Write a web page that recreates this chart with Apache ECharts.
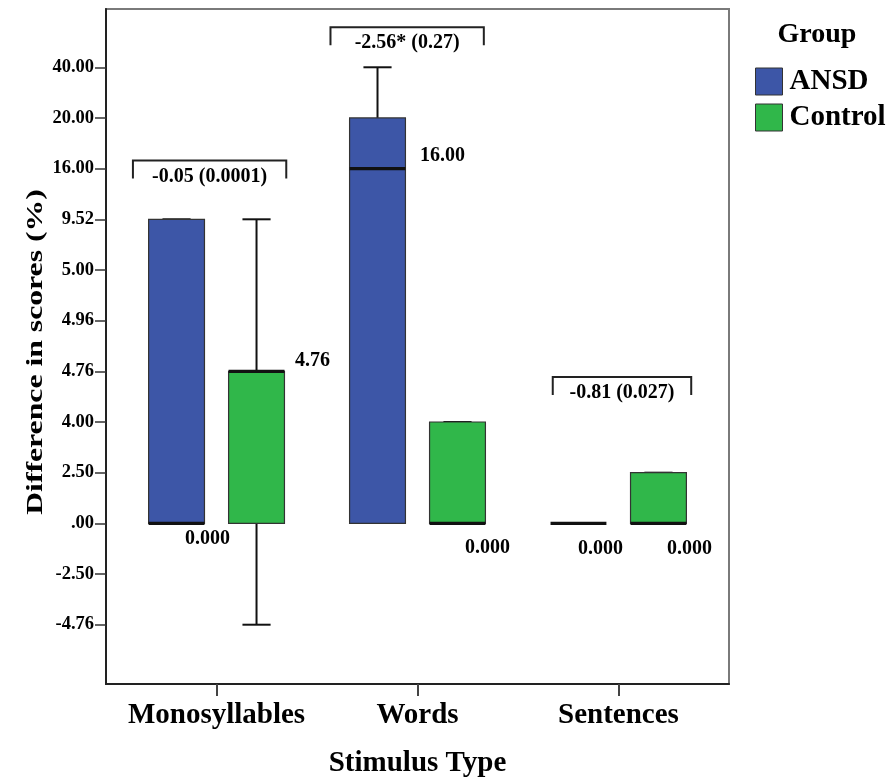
<!DOCTYPE html>
<html>
<head>
<meta charset="utf-8">
<script src="https://cdn.jsdelivr.net/npm/echarts@6.0.0/dist/echarts.min.js"></script>
<style>html,body{margin:0;padding:0;background:#fff}#c{width:887px;height:777px}</style>
</head>
<body>
<div id="c"></div>
<script>
// ---- data ----
const categories = ['Monosyllables', 'Words', 'Sentences'];
const tickValues = [-4.76, -2.5, 0, 2.5, 4, 4.76, 4.96, 5, 9.52, 16, 20, 40];
const tickLabels = ['-4.76', '-2.50', '.00', '2.50', '4.00', '4.76', '4.96', '5.00', '9.52', '16.00', '20.00', '40.00'];
// [min, Q1, median, Q3, max]
const ansd = [[0, 0, 0, 9.52, 9.52], [0, 0, 16, 20, 40], [0, 0, 0, 0, 0]];
const control = [[-4.76, 0, 4.76, 4.76, 9.52], [0, 0, 0, 4, 4], [0, 0, 0, 2.5, 2.5]];
const ansdMedianText = ['0.000', '16.00', '0.000'];
const controlMedianText = ['4.76', '0.000', '0.000'];
const bracketTexts = ['-0.05 (0.0001)', '-2.56* (0.27)', '-0.81 (0.027)'];

// ---- layout / style ----
const FONT = "'Liberation Serif','Times New Roman',serif";
const BLUE = '#3D56A7', GREEN = '#30B74A';
const GROUP_OFF = 0.199, HALF_W = 0.139, CAP_HALF = 0.07;
const ANSD_LABEL_OFF = [[3, 15], [37, -13], [-6, 25]];
const CONTROL_LABEL_OFF = [[28, -10.7], [2, 24.5], [3, 25]];
const BRACKET_LAYOUT = [
  { level: 9.16, x0: -0.416, x1: 0.347 },
  { level: 11.79, x0: -0.433, x1: 0.330 },
  { level: 4.89, x0: -0.327, x1: 0.362 }
];

const pos = v => tickValues.indexOf(v);
const toRows = arr => arr.map((r, i) => [i].concat(r.map(pos)));

function boxRender(offset, labels, labelOff) {
  return function (params, api) {
    const c = api.value(0);
    const vMin = api.value(1), vQ1 = api.value(2), vMed = api.value(3), vQ3 = api.value(4), vMax = api.value(5);
    const unit = api.size([1, 0])[0];
    const cx = api.coord([c, 0])[0] + offset * unit;
    const hw = HALF_W * unit, ch = CAP_HALF * unit;
    const y = v => api.coord([c, v])[1];
    const kids = [];
    const line = (x1, y1, x2, y2, w) => kids.push({ type: 'line', shape: { x1, y1, x2, y2 }, style: { stroke: '#111', lineWidth: w } });
    if (vMin < vQ1) { line(cx, y(vMin), cx, y(vQ1), 2); line(cx - ch, y(vMin), cx + ch, y(vMin), 2); }
    if (vMax > vQ3) { line(cx, y(vQ3), cx, y(vMax), 2); }
    if (vMax > vMin && vMax !== vQ3 || (vMax === vQ3 && vMin === vQ1 && vMed === vQ1 && vMax > vMin)) {
      line(cx - ch, y(vMax), cx + ch, y(vMax), 2);
    }
    if (vQ3 > vQ1) {
      kids.push({ type: 'rect', shape: { x: cx - hw, y: y(vQ3), width: 2 * hw, height: y(vQ1) - y(vQ3) },
        style: { fill: api.visual('color'), stroke: '#333', lineWidth: 1.2 } });
    }
    line(cx - hw, y(vMed), cx + hw, y(vMed), 3.2);
    const off = labelOff[params.dataIndex];
    kids.push({ type: 'text', x: cx + hw + off[0], y: y(vMed) + off[1],
      style: { text: labels[params.dataIndex], fill: '#000', font: 'bold 20px ' + FONT, align: 'center', verticalAlign: 'middle' } });
    return { type: 'group', children: kids };
  };
}

function bracketRender(params, api) {
  const i = params.dataIndex;
  const L = BRACKET_LAYOUT[i];
  const unit = api.size([1, 0])[0];
  const c = api.value(0);
  const p = api.coord([c, L.level]);
  const x0 = p[0] + L.x0 * unit, x1 = p[0] + L.x1 * unit, top = p[1];
  return { type: 'group', children: [
    { type: 'polyline', shape: { points: [[x0, top + 18], [x0, top], [x1, top], [x1, top + 18]] },
      style: { stroke: '#222', lineWidth: 2, fill: null } },
    { type: 'text', x: (x0 + x1) / 2, y: top + 16,
      style: { text: bracketTexts[i], fill: '#000', font: 'bold 20px ' + FONT, align: 'center', verticalAlign: 'middle' } }
  ] };
}

const chart = echarts.init(document.getElementById('c'), null, { renderer: 'canvas' });
chart.setOption({
  animation: false,
  backgroundColor: '#fff',
  grid: { left: 106, right: 158, top: 9, bottom: 93, outerBoundsMode: 'none', containLabel: false,
    show: true, borderColor: '#7a7a7a', borderWidth: 2, backgroundColor: 'transparent' },
  xAxis: {
    type: 'value', min: -0.55, max: 2.55,
    splitLine: { show: false },
    axisLine: { show: true, onZero: false, lineStyle: { color: '#222', width: 2 } },
    axisTick: { show: true, customValues: [0, 1, 2], length: 12, lineStyle: { color: '#444', width: 2 } },
    axisLabel: { customValues: [0, 1, 2], formatter: v => categories[Math.round(v)], margin: 17,
      color: '#000', fontSize: 29, fontWeight: 'bold', fontFamily: FONT },
    name: 'Stimulus Type', nameLocation: 'middle', nameGap: 65,
    nameTextStyle: { color: '#000', fontSize: 29, fontWeight: 'bold', fontFamily: FONT }
  },
  yAxis: {
    type: 'value', min: -1.17, max: 12.15,
    splitLine: { show: false },
    axisLine: { show: true, onZero: false, lineStyle: { color: '#222', width: 2 } },
    axisTick: { show: true, customValues: tickValues.map((v, i) => i), length: 11, lineStyle: { color: '#333', width: 1.5 } },
    axisLabel: { customValues: tickValues.map((v, i) => i), formatter: v => tickLabels[Math.round(v)], margin: 12,
      color: '#000', fontSize: 18.5, fontWeight: 'bold', fontFamily: FONT }
  },
  legend: {
    data: ['ANSD', 'Control'], orient: 'vertical', left: 750, top: 62,
    icon: 'rect', itemWidth: 27, itemHeight: 27, itemGap: 7,
    itemStyle: { borderColor: '#333', borderWidth: 1 },
    textStyle: { color: '#000', fontSize: 29, fontWeight: 'bold', fontFamily: FONT, lineHeight: 27, padding: [0, 0, 0, 2] }
  },
  graphic: [
    { type: 'text', x: 36, y: 352, rotation: Math.PI / 2, scaleX: 1.35,
      style: { text: 'Difference in scores (%)', fill: '#000', font: 'bold 23.5px ' + FONT, align: 'center', verticalAlign: 'middle' } },
    { type: 'text', x: 817, y: 35,
      style: { text: 'Group', fill: '#000', font: 'bold 28px ' + FONT, align: 'center', verticalAlign: 'middle' } }
  ],
  series: [
    { type: 'custom', name: 'ANSD', itemStyle: { color: BLUE }, data: toRows(ansd),
      encode: { x: 0, y: [1, 2, 3, 4, 5] }, renderItem: boxRender(-GROUP_OFF, ansdMedianText, ANSD_LABEL_OFF), z: 3 },
    { type: 'custom', name: 'Control', itemStyle: { color: GREEN }, data: toRows(control),
      encode: { x: 0, y: [1, 2, 3, 4, 5] }, renderItem: boxRender(GROUP_OFF, controlMedianText, CONTROL_LABEL_OFF), z: 3 },
    { type: 'custom', name: 'brackets', data: categories.map((c, i) => [i, BRACKET_LAYOUT[i].level]),
      encode: { x: 0, y: 1 }, renderItem: bracketRender, z: 4, silent: true }
  ]
});
</script>
</body>
</html>
